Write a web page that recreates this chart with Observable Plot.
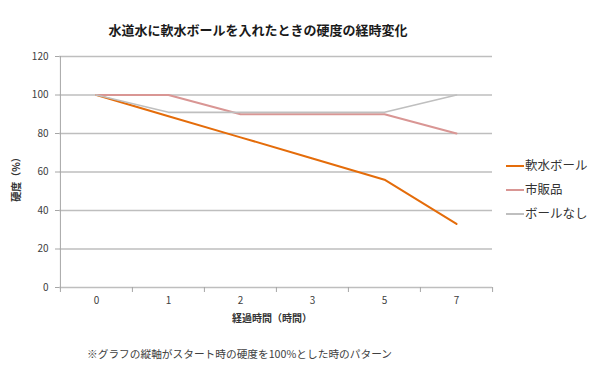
<!DOCTYPE html>
<html><head><meta charset="utf-8">
<script src="https://cdn.jsdelivr.net/npm/d3@7"></script>
<script src="https://cdn.jsdelivr.net/npm/@observablehq/plot@0.6"></script>
<style>
html,body{margin:0;padding:0;background:#fff;}
#wrap{position:relative;width:600px;height:375px;font-family:"Noto Sans CJK JP","Noto Sans",sans-serif;color:#404040;}
#wrap svg{position:absolute;left:0;top:0;}
.t{position:absolute;white-space:nowrap;line-height:1;}
</style></head>
<body><div id="wrap"></div>
<script>
const title = "水道水に軟水ボールを入れたときの硬度の経時変化";
const yLabel = "硬度（%）";
const xLabel = "経過時間（時間）";
const caption = "※グラフの縦軸がスタート時の硬度を100%とした時のパターン";
const categories = ["0", "1", "2", "3", "5", "7"];
const softBall = [100, 89, 78, 67, 56, 33];
const commercial = [100, 100, 90, 90, 90, 80];
const noBall = [100, 91, 91, 91, 91, 100];
const seriesNames = ["軟水ボール", "市販品", "ボールなし"];
const seriesColors = ["#E46C0A", "#D99694", "#BFBFBF"];
const yTicks = [0, 20, 40, 60, 80, 100, 120];

const W = 600, H = 375, ml = 59, mr = 108, mt = 56, mb = 88;
const step = (W - ml - mr) / categories.length;
const seriesValues = [softBall, commercial, noBall];
const rows = seriesNames.flatMap((s, si) => categories.map((c, i) => ({series: s, x: c, y: seriesValues[si][i]})));

const chart = Plot.plot({
  width: W, height: H,
  marginLeft: ml, marginRight: mr, marginTop: mt, marginBottom: mb,
  style: {fontFamily: '"Noto Sans CJK JP", sans-serif', background: "transparent"},
  x: {type: "point", domain: categories, padding: 0.5, axis: null},
  y: {domain: [0, 120], axis: null},
  color: {domain: seriesNames, range: seriesColors},
  marks: [
    Plot.ruleY(yTicks, {stroke: "#BEBEBE", strokeWidth: 1.3}),
    Plot.ruleX([categories[0]], {y1: 0, y2: 120, dx: -step / 2, stroke: "#A6A6A6", strokeWidth: 1}),
    Plot.axisY(yTicks, {tickSize: 4, tickPadding: 7, stroke: "#A6A6A6", fill: "#404040", fontSize: 10, label: null}),
    Plot.axisX(categories, {tickSize: 0, tickPadding: 9, fill: "#404040", fontSize: 10, label: null}),
    Plot.axisX(categories, {tickSize: 5, dx: -step / 2, stroke: "#A6A6A6", tickFormat: () => "", label: null}),
    Plot.axisX([categories[categories.length - 1]], {tickSize: 5, dx: step / 2, stroke: "#A6A6A6", tickFormat: () => "", label: null}),
    Plot.line(rows, {x: "x", y: "y", z: "series", stroke: "series",
      strokeWidth: d => d.series === seriesNames[2] ? 1.6 : 2, strokeLinejoin: "round"})
  ]
});
const wrap = document.getElementById("wrap");
wrap.appendChild(chart);

function addText(txt, css) {
  const d = document.createElement("div");
  d.className = "t";
  d.textContent = txt;
  Object.assign(d.style, css);
  wrap.appendChild(d);
  return d;
}
addText(title, {left: "258px", top: "23px", transform: "translateX(-50%)", fontSize: "13px", fontWeight: "bold", color: "#1a1a1a"});
addText(xLabel, {left: "272px", top: "313px", transform: "translateX(-50%)", fontSize: "10px", fontWeight: "bold", color: "#333"});
addText(yLabel, {left: "16px", top: "177px", transform: "translate(-50%,-50%) rotate(-90deg)", fontSize: "10px", fontWeight: "bold", color: "#333"});
addText(caption, {left: "87px", top: "349px", fontSize: "10.7px", color: "#404040"});

const legendY = [166, 190, 214];
seriesNames.forEach((s, i) => {
  const ln = document.createElement("div");
  Object.assign(ln.style, {position: "absolute", left: "506px", top: (legendY[i] - 1) + "px", width: "18px", height: "2px", background: seriesColors[i]});
  wrap.appendChild(ln);
  addText(s, {left: "525px", top: (legendY[i] - 7) + "px", fontSize: "12.5px", color: "#333"});
});
</script></body></html>
